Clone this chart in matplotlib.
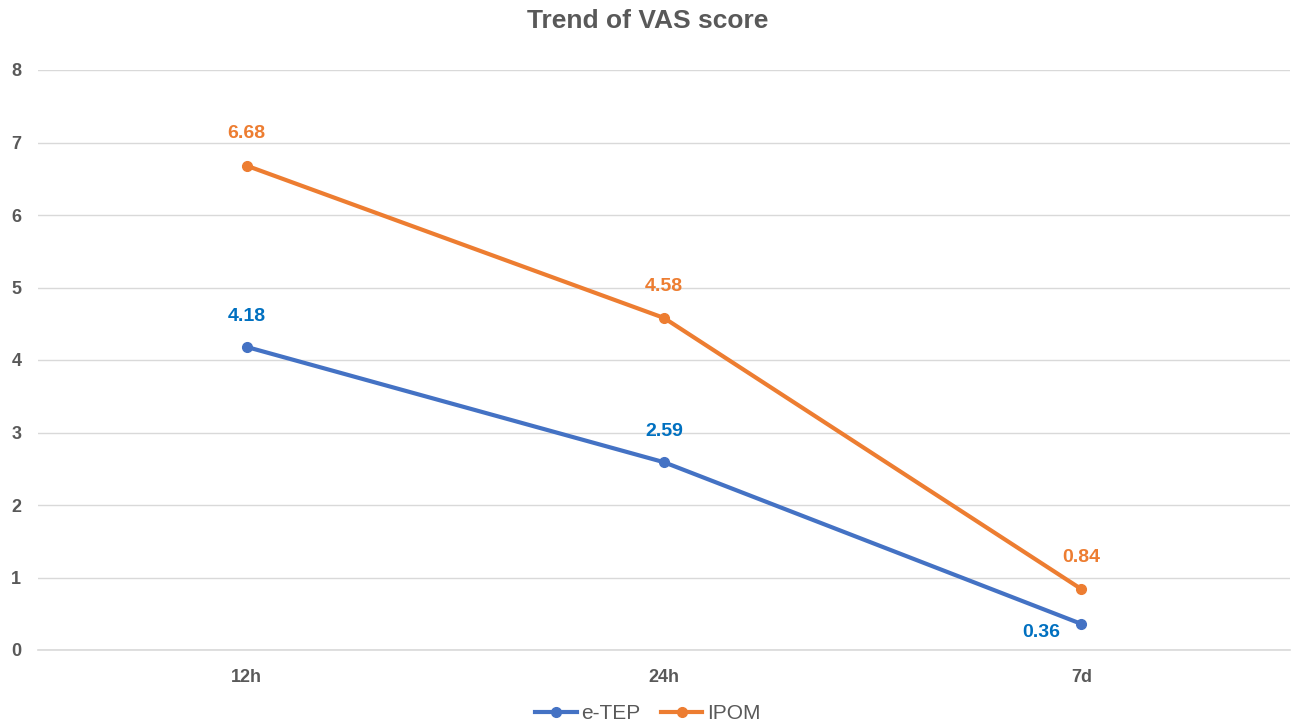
import matplotlib
matplotlib.use("Agg")
import matplotlib.pyplot as plt

categories = ["12h", "24h", "7d"]
etep = [4.18, 2.59, 0.36]
ipom = [6.68, 4.58, 0.84]

BLUE = "#4472C4"
ORANGE = "#ED7D31"
BLUE_LBL = "#0070C0"
GRAY = "#595959"

plt.rcParams["font.family"] = ["Liberation Sans", "DejaVu Sans"]

fig = plt.figure(figsize=(12.95, 7.26), dpi=100)
ax = fig.add_axes([38 / 1295, 76 / 726, (1290 - 38) / 1295, 580 / 726])

x = list(range(len(categories)))
ax.plot(x, etep, "o-", color=BLUE, lw=3, ms=7, label="e-TEP", zorder=3, clip_on=False)
ax.plot(x, ipom, "o-", color=ORANGE, lw=3, ms=7, label="IPOM", zorder=3, clip_on=False)

# data labels
for i, v in enumerate(etep):
    if i == len(etep) - 1:
        ax.annotate(f"{v:.2f}", (i, v), xytext=(-29, -6), textcoords="offset points",
                    ha="center", va="center", color=BLUE_LBL, fontsize=14, fontweight="bold")
    else:
        ax.annotate(f"{v:.2f}", (i, v), xytext=(0, 22), textcoords="offset points",
                    ha="center", va="center", color=BLUE_LBL, fontsize=14, fontweight="bold")
for i, v in enumerate(ipom):
    ax.annotate(f"{v:.2f}", (i, v), xytext=(0, 23), textcoords="offset points",
                ha="center", va="center", color=ORANGE, fontsize=14, fontweight="bold")

ax.set_xlim(-0.5, 2.5)
ax.set_ylim(0, 8)
ax.set_yticks(range(0, 9))
ax.set_xticks(x)
ax.set_xticklabels(categories)
ax.tick_params(axis="both", length=0, labelsize=13, labelcolor=GRAY)
ax.tick_params(axis="y", pad=12)
ax.tick_params(axis="x", pad=14)
for lbl in ax.get_xticklabels() + ax.get_yticklabels():
    lbl.set_fontweight("bold")
ax.grid(axis="y", color="#D9D9D9", lw=1)
ax.axhline(0, color="#D9D9D9", lw=1.2, zorder=0, clip_on=False)
ax.set_axisbelow(True)
for s in ax.spines.values():
    s.set_visible(False)

fig.suptitle("Trend of VAS score", x=0.5, y=0.987, fontsize=19, fontweight="bold", color=GRAY)

leg = fig.legend(loc="lower center", bbox_to_anchor=(0.5, -0.022), ncol=2, frameon=False,
                 fontsize=15, handlelength=2.0, columnspacing=1.0, handletextpad=0.2)
for t in leg.get_texts():
    t.set_color(GRAY)

fig.savefig("out.png", dpi=100)
